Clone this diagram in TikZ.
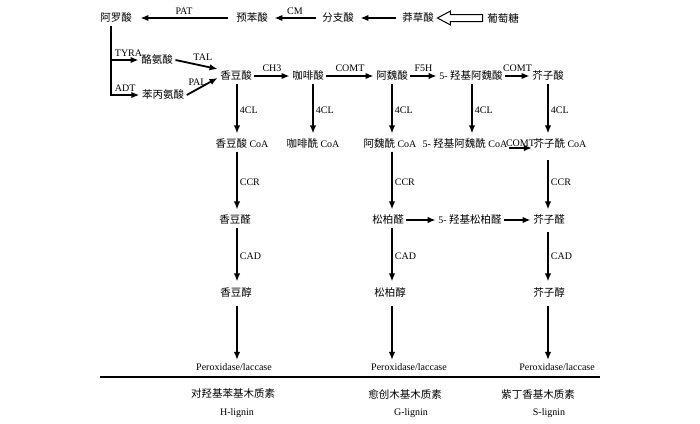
\documentclass[tikz,border=0pt]{standalone}
\usepackage{fontspec}
\setmainfont{Liberation Serif}
\newfontfamily\cjk{Noto Sans CJK SC}
\newcommand{\zhtext}[1]{{\cjk\fontsize{10.5}{12}\selectfont #1}}
\usetikzlibrary{arrows.meta}
\begin{document}
\begin{tikzpicture}[x=1pt,y=-1pt,
    every node/.style={font=\fontsize{10}{12}\selectfont},
    cmpd/.style={inner sep=2.5pt},
    arr/.style={line width=1.8pt,-{Latex[length=8pt,width=6.5pt]}},
    lab/.style={font=\fontsize{10}{12}\selectfont,inner sep=2pt}]
    \useasboundingbox (0,0) rectangle (700,423);
    % top row
    \node[cmpd] (aro) at (116,18) {\zhtext{阿罗酸}};
    \node[cmpd] (pre) at (252,18) {\zhtext{预苯酸}};
    \node[cmpd] (cho) at (338,18) {\zhtext{分支酸}};
    \node[cmpd] (shk) at (418,18) {\zhtext{莽草酸}};
    \node[cmpd] (glc) at (503,18) {\zhtext{葡萄糖}};
    % amino acids
    \node[cmpd] (tyr) at (157,60) {\zhtext{酪氨酸}};
    \node[cmpd] (phe) at (163,95) {\zhtext{苯丙氨酸}};
    % acids
    \node[cmpd] (cou) at (236,76) {\zhtext{香豆酸}};
    \node[cmpd] (caf) at (308,76) {\zhtext{咖啡酸}};
    \node[cmpd] (fer) at (392,76) {\zhtext{阿魏酸}};
    \node[cmpd] (hfa) at (471,76) {5- \zhtext{羟基阿魏酸}};
    \node[cmpd] (sin) at (548,76) {\zhtext{芥子酸}};
    % CoA esters
    \node[cmpd] (couCoA) at (242,144) {\zhtext{香豆酸} CoA};
    \node[cmpd] (cafCoA) at (313,144) {\zhtext{咖啡酰} CoA};
    \node[cmpd] (ferCoA) at (390,144) {\zhtext{阿魏酰} CoA};
    \node[cmpd] (hfaCoA) at (465,144) {5- \zhtext{羟基阿魏酰} CoA};
    \node[cmpd] (sinCoA) at (560,144) {\zhtext{芥子酰} CoA};
    % aldehydes
    \node[cmpd] (coual) at (235,220) {\zhtext{香豆醛}};
    \node[cmpd] (conal) at (388,220) {\zhtext{松柏醛}};
    \node[cmpd] (hcal) at (470,220) {5- \zhtext{羟基松柏醛}};
    \node[cmpd] (sinal) at (549,220) {\zhtext{芥子醛}};
    % alcohols
    \node[cmpd] (couol) at (236,292) {\zhtext{香豆醇}};
    \node[cmpd] (conol) at (390,292) {\zhtext{松柏醇}};
    \node[cmpd] (sinol) at (549,292) {\zhtext{芥子醇}};
    % enzymes and lignins
    \node (perH) at (234,367) {Peroxidase/laccase};
    \node (perG) at (409,367) {Peroxidase/laccase};
    \node (perS) at (557,367) {Peroxidase/laccase};
    \node (ligH) at (233,394) {\zhtext{对羟基苯基木质素}};
    \node (ligG) at (405,394) {\zhtext{愈创木基木质素}};
    \node (ligS) at (538,394) {\zhtext{紫丁香基木质素}};
    \node (engH) at (237,413) {H-lignin};
    \node (engG) at (411,413) {G-lignin};
    \node (engS) at (549,413) {S-lignin};
    % columns
    \coordinate (colH) at (237,0);
    \coordinate (colC) at (313,0);
    \coordinate (colG) at (392,0);
    \coordinate (colF) at (472,0);
    \coordinate (colS) at (548,0);
    \coordinate (br) at (111,0);
    % top row arrows
    \draw[arr,shorten <=6pt,shorten >=6pt] (pre) to node[lab,above=1pt]{PAT} (aro);
    \draw[arr,shorten <=4pt,shorten >=4pt] (cho) to node[lab,above=1pt]{CM} (pre);
    \draw[arr,shorten <=4pt,shorten >=4pt] (shk) to (cho);
    \draw[line width=1pt,line join=miter]
        ([xshift=1pt]shk.east) -- ([xshift=14pt,yshift=7pt]shk.east)
        -- ([xshift=14pt,yshift=3.5pt]shk.east) -- ([xshift=-2pt,yshift=3.5pt]glc.west)
        -- ([xshift=-2pt,yshift=-3.5pt]glc.west) -- ([xshift=14pt,yshift=-3.5pt]shk.east)
        -- ([xshift=14pt,yshift=-7pt]shk.east) -- cycle;
    % branch to amino acids
    \draw[arr,line join=miter] (aro.south -| br) |- node[lab,pos=0.5,above right,inner sep=3pt]{ADT} (phe.west);
    \draw[arr] (br |- tyr) to node[lab,pos=0,above right,inner sep=3pt]{TYRA} (tyr.west);
    \draw[arr] (tyr.east) to node[lab,above=2pt,pos=0.65]{TAL} ([yshift=7pt]cou.west);
    \draw[arr] (phe.east) to node[lab,above=1pt,pos=0.35]{PAL} ([yshift=-2pt]cou.west);
    % acid row
    \draw[arr] (cou) to node[lab,above=2pt]{CH3} (caf);
    \draw[arr] (caf) to node[lab,above=2pt]{COMT} (fer);
    \draw[arr] (fer) to node[lab,above=2pt]{F5H} (hfa);
    \draw[arr] (hfa) to node[lab,above=2pt]{COMT} (sin);
    % 4CL
    \draw[arr,shorten >=3pt] (cou.south -| colH) to node[lab,right]{4CL} (couCoA.north -| colH);
    \draw[arr,shorten >=3pt] (caf.south -| colC) to node[lab,right]{4CL} (cafCoA.north -| colC);
    \draw[arr,shorten >=3pt] (fer.south -| colG) to node[lab,right]{4CL} (ferCoA.north -| colG);
    \draw[arr,shorten >=3pt] (hfa.south -| colF) to node[lab,right]{4CL} (hfaCoA.north -| colF);
    \draw[arr,shorten >=3pt] (sin.south -| colS) to node[lab,right]{4CL} (sinCoA.north -| colS);
    \draw[arr,shorten <=-1pt,shorten >=-1pt] ([yshift=-4pt]hfaCoA.east) to node[lab,above,inner sep=1pt]{COMT} ([yshift=-4pt]sinCoA.west);
    % CCR
    \draw[arr,shorten >=3pt] (couCoA.south -| colH) to node[lab,right]{CCR} (coual.north -| colH);
    \draw[arr,shorten >=3pt] (ferCoA.south -| colG) to node[lab,right]{CCR} (conal.north -| colG);
    \draw[arr,shorten <=8pt,shorten >=3pt] (sinCoA.south -| colS) to node[lab,right]{CCR} (sinal.north -| colS);
    \draw[arr] (conal) to (hcal);
    \draw[arr] (hcal) to (sinal);
    % CAD
    \draw[arr,shorten >=3pt] (coual.south -| colH) to node[lab,right]{CAD} (couol.north -| colH);
    \draw[arr,shorten >=3pt] (conal.south -| colG) to node[lab,right]{CAD} (conol.north -| colG);
    \draw[arr,shorten <=4pt,shorten >=3pt] (sinal.south -| colS) to node[lab,right]{CAD} (sinol.north -| colS);
    % polymerisation
    \draw[arr,shorten <=6pt] (couol.south -| colH) to (perH.north -| colH);
    \draw[arr,shorten <=6pt] (conol.south -| colG) to (perG.north -| colG);
    \draw[arr,shorten <=6pt] (sinol.south -| colS) to (perS.north -| colS);
    \draw[line width=1.3pt] (100,377) -- (600,377);
\end{tikzpicture}
\end{document}
